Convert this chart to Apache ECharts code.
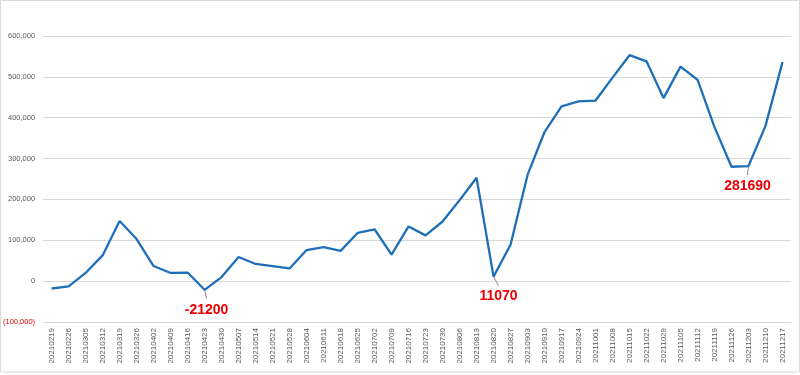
<!DOCTYPE html>
<html><head><meta charset="utf-8">
<script src="https://cdn.jsdelivr.net/npm/echarts@6/dist/echarts.min.js"></script>
<style>html,body{margin:0;padding:0;background:#fff}#c{width:800px;height:375px}</style>
</head><body><div id="c"></div>
<script>
const categories = ['20210219','20210226','20210305','20210312','20210319','20210326','20210402','20210409','20210416','20210423','20210430','20210507','20210514','20210521','20210528','20210604','20210611','20210618','20210625','20210702','20210709','20210716','20210723','20210730','20210806','20210813','20210820','20210827','20210903','20210910','20210917','20210924','20211001','20211008','20211015','20211022','20211029','20211105','20211112','20211119','20211126','20211203','20211210','20211217'];
const values = [-18000,-13000,20000,63000,147000,103000,37000,20000,21000,-21200,10000,59000,42000,37000,31000,76000,83000,74000,118000,127000,65000,134000,112000,146000,198000,253000,11070,89000,260000,365000,428000,440000,442000,498000,553000,538000,448000,525000,493000,377000,280000,281690,380000,536000];
const annotated = [9, 26, 41];
const annotDx = [2, 5, -1];
const yTicks = {min:-100000, max:600000, interval:100000};

const chart = echarts.init(document.getElementById('c'));
function fmt(v){ return Math.abs(v).toString().replace(/\B(?=(\d{3})+(?!\d))/g, ','); }
chart.setOption({
  animation:false,
  grid:{left:40, right:9, top:36, bottom:53},
  xAxis:{type:'category', data:categories, boundaryGap:true,
    axisLine:{show:false}, axisTick:{show:false},
    axisLabel:{rotate:90, interval:0, fontSize:8, color:'#595959', fontFamily:'Liberation Sans', margin:6}},
  yAxis:{type:'value', min:yTicks.min, max:yTicks.max, interval:yTicks.interval,
    axisLine:{show:false}, axisTick:{show:false},
    splitLine:{lineStyle:{color:'#d9d9d9', width:1}},
    axisLabel:{fontSize:7.5, color:'#595959', fontFamily:'Liberation Sans', margin:8,
      formatter:v => v<0 ? '{neg|(' + fmt(v) + ')}' : fmt(v),
      rich:{neg:{color:'#e00000', fontSize:7.5, fontFamily:'Liberation Sans'}}}},
  series:[{type:'line', data:values, symbol:'none', lineStyle:{color:'#1f6fb8', width:2.3}}]
});
const g = [{type:'rect', shape:{x:0.5,y:0.5,width:799,height:371.5}, style:{fill:'none', stroke:'#d9d9d9', lineWidth:1}, silent:true}];
annotated.forEach((i, k) => {
  const p = chart.convertToPixel({seriesIndex:0}, [i, values[i]]);
  const dx = annotDx[k];
  g.push({type:'line', shape:{x1:p[0], y1:p[1], x2:p[0]+dx, y2:p[1]+9}, style:{stroke:'#8c8c8c', lineWidth:1}, silent:true});
  g.push({type:'text', x:p[0]+dx, y:p[1]+13, style:{text:String(values[i]), fill:'#ee0000', font:'bold 14px "Liberation Sans"', align:'center', verticalAlign:'top'}, silent:true});
});
chart.setOption({graphic:g});
</script></body></html>
